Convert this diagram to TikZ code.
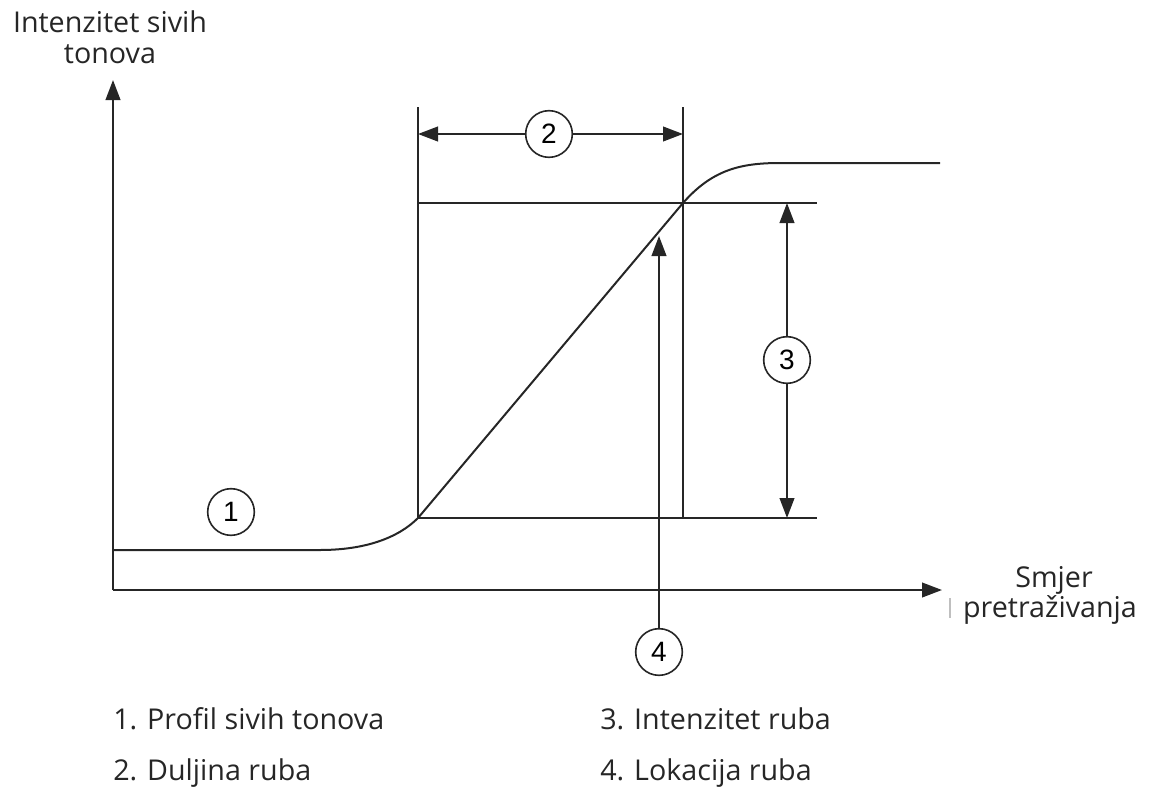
\documentclass[tikz,border=0pt]{standalone}
\usepackage{fontspec}
\setmainfont{Open Sans}
\newfontfamily\numfont{Liberation Sans}
\usetikzlibrary{arrows.meta}
\definecolor{ink}{HTML}{262626}
\begin{document}
\begin{tikzpicture}[x=0.75pt,y=-0.75pt,
  ln/.style={draw=ink,line width=1.5pt},
  tip/.style={-{Triangle[length=15pt,width=11pt]}},
  num/.style={circle,draw=ink,line width=1.2pt,minimum size=35pt,inner sep=0pt,font=\numfont\fontsize{21}{21}\selectfont},
  lbl/.style={font=\fontsize{21.5}{24}\selectfont,text=ink,inner sep=0pt}]
\useasboundingbox (0,0) rectangle (1150,789);
% axes
\coordinate (O) at (113,590);
\coordinate (Ytop) at (113,80);
\coordinate (Xend) at (942,590);
\draw[ln,tip] (O) -- (Ytop);
\draw[ln,tip] (O) -- (Xend);
% profile
\coordinate (P0) at (113,550);
\coordinate (P1) at (320,550);
\coordinate (P2) at (418,518);
\coordinate (P3) at (683,203);
\coordinate (P4) at (780,163);
\coordinate (P5) at (940,163);
\draw[ln] (P0) -- (P1) .. controls (365,550) and (398,538) .. (P2) -- (P3)
  .. controls (712,170) and (740,163) .. (P4) -- (P5);
% frame lines
\coordinate (L1t) at (418,107);
\coordinate (L2t) at (683,107);
\coordinate (L2b) at (683,518);
\coordinate (H1e) at (817,203);
\coordinate (H2e) at (817,518);
\draw[ln] (L1t) -- (P2);
\draw[ln] (L2t) -- (L2b);
\draw[ln] (P2) -- (H2e);
\draw[ln] (418,203) coordinate (H1s) -- (H1e);
% dimension 2
\node[num] (n2) at (549,134) {2};
\coordinate (A2l) at (418,134);
\coordinate (A2r) at (683,134);
\draw[ln,tip] (n2) -- (A2l);
\draw[ln,tip] (n2) -- (A2r);
% dimension 3
\node[num] (n3) at (787,360) {3};
\coordinate (A3t) at (787,203);
\coordinate (A3b) at (787,518);
\draw[ln,tip] (n3) -- (A3t);
\draw[ln,tip] (n3) -- (A3b);
% location 4
\node[num] (n4) at (659,652) {4};
\coordinate (A4t) at (659,236);
\draw[ln,tip] (n4) -- (A4t);
% 1
\node[num] (n1) at (231,512) {1};
% axis labels
\node[lbl,anchor=base] (yl1) at (110,32) {Intenzitet sivih};
\node[lbl,anchor=base] (yl2) at (110,63) {tonova};
\node[lbl,anchor=base] (xl1) at (1054,587) {Smjer};
\node[lbl,anchor=base] (xl2) at (1050,617) {pretraživanja};
\draw[black!25,line width=0.8pt] (950,598) coordinate (c1) -- (950,618) coordinate (c2);
% legend
\node[lbl,anchor=base west] (t1) at (113,729) {1. Profil sivih tonova};
\node[lbl,anchor=base west] (t2) at (113,780) {2. Duljina ruba};
\node[lbl,anchor=base west] (t3) at (600,729) {3. Intenzitet ruba};
\node[lbl,anchor=base west] (t4) at (600,780) {4. Lokacija ruba};
\end{tikzpicture}
\end{document}
